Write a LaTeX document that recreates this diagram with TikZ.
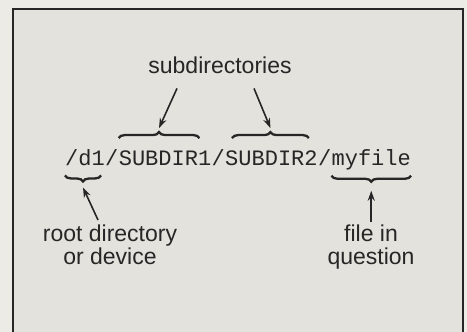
\documentclass[tikz,border=0pt]{standalone}
\usepackage{fontspec}
\setmainfont{Liberation Sans}
\setmonofont{Liberation Mono}
\usetikzlibrary{decorations.pathreplacing,arrows.meta}
\definecolor{outerbg}{HTML}{ECEBE6}
\definecolor{innerbg}{HTML}{E3E2DC}
\definecolor{ink}{HTML}{262626}
\tikzset{
  lbl/.style={inner sep=0pt, text=ink, font=\fontsize{23}{23}\selectfont, align=center},
  pathtxt/.style={inner sep=0pt, text=ink, anchor=base west, font=\ttfamily\fontsize{22}{26}\selectfont},
  brc/.style={draw=ink, line width=2.3pt, decorate, decoration={brace, amplitude=6pt}},
  brcm/.style={draw=ink, line width=2.3pt, decorate, decoration={brace, amplitude=6pt, mirror}},
  arr/.style={draw=ink, line width=1.6pt, -{Stealth[length=10pt,width=7pt]}},
  frame/.style={draw=ink, line width=1.4pt}
}
\begin{document}
\begin{tikzpicture}[x=1pt,y=-1pt]
\fill[outerbg] (0,0) rectangle (467,332);
\useasboundingbox (0,0) rectangle (467,332);
\fill[innerbg] (13,9) rectangle (463,332);
\draw[frame] (13,332) -- (13,9) -- (463,9) -- (463,332);

% path text
\node[pathtxt] (d1) at (65,165) {/d1};
\node[pathtxt] (sl1) at (d1.base east) {/};
\node[pathtxt] (s1) at (sl1.base east) {SUBDIR1};
\node[pathtxt] (sl2) at (s1.base east) {/};
\node[pathtxt] (s2) at (sl2.base east) {SUBDIR2};
\node[pathtxt] (sl3) at (s2.base east) {/};
\node[pathtxt] (f) at (sl3.base east) {myfile};

% labels
\node[lbl, anchor=base] (sub) at (220,74) {subdirectories};
\node[lbl, anchor=north] (root) at (110,225) {root directory\\or device};
\node[lbl, anchor=north] (file) at (371,225) {file in\\question};

% braces with their tip coordinates
\draw[brc] ([shift={(0,-12)}]s1.north west) -- ([shift={(-12,-12)}]s1.north east) coordinate[midway, yshift=10pt] (t1);
\draw[brc] ([shift={(7,-12)}]s2.north west) -- ([shift={(-9,-12)}]s2.north east) coordinate[midway, yshift=10pt] (t2);
\draw[brcm] ([shift={(0,10)}]d1.south west) -- ([shift={(-4,10)}]d1.south east) coordinate[midway, yshift=-12pt] (t3);
\draw[brcm] ([shift={(0,6)}]f.south west) -- ([shift={(0,6)}]f.south east) coordinate[midway, yshift=-15pt] (t4);

% arrows from labels to braces
\draw[arr] ([xshift=-43pt,yshift=-14pt]sub.south) -- (t1);
\draw[arr] ([xshift=34pt,yshift=-14pt]sub.south) -- (t2);
\draw[arr] ([xshift=-12pt,yshift=5pt]root.north) -- (t3);
\draw[arr] ([yshift=3pt]file.north -| t4) -- (t4);
\end{tikzpicture}
\end{document}
